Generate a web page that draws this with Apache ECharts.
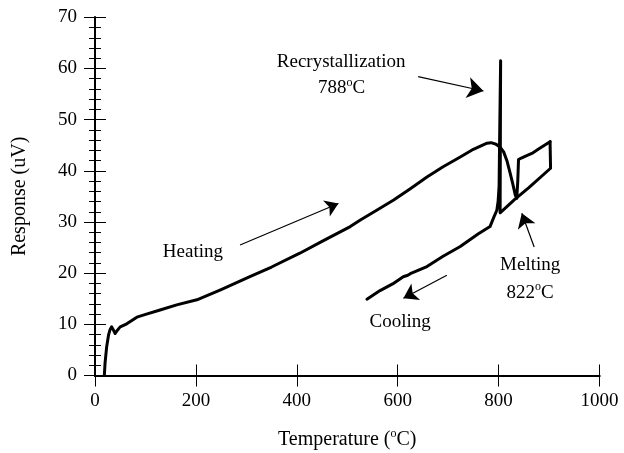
<!DOCTYPE html>
<html>
<head>
<meta charset="utf-8">
<script src="https://cdn.jsdelivr.net/npm/echarts@6/dist/echarts.min.js"></script>
<style>
  html, body { margin: 0; padding: 0; background: #fff; }
  #chart { width: 624px; height: 453px; }
</style>
</head>
<body>
<div id="chart"></div>
<script>
// Heating trace: temperature (°C) and response (uV)
const heatingTemp = [18.5, 20, 23, 27, 30, 33, 37, 40, 44, 50, 63, 83, 102, 129, 162, 202, 250, 307, 350, 406, 450, 506, 526, 560, 592, 625, 658, 690, 724, 750, 777, 785, 795, 803, 810, 817, 823, 828, 833, 836, 838, 839.5, 845, 859, 866, 880, 902];
const heatingResp = [0, 2.5, 5.5, 8, 9, 9.5, 8.8, 8.2, 8.8, 9.5, 10.1, 11.4, 12, 12.8, 13.8, 14.8, 16.8, 19.3, 21.2, 23.9, 26.2, 29.1, 30.4, 32.4, 34.3, 36.5, 38.8, 40.8, 42.7, 44.2, 45.4, 45.5, 45.2, 44.6, 43.7, 41.8, 39.5, 37.5, 35.3, 34.6, 38, 42.2, 42.5, 43.1, 43.4, 44.3, 45.7];

// Cooling trace, including the recrystallization spike
const coolingTemp = [902, 903, 860, 832, 803, 803.5, 804, 802, 801, 799, 796.5, 790, 783, 760, 724, 690, 658, 625, 620, 611, 590, 565, 539];
const coolingResp = [45.7, 40.5, 36.7, 34.4, 31.8, 46, 61.5, 46, 37, 34, 32.3, 30.8, 29.1, 27.7, 25.2, 23.3, 21.3, 19.9, 19.6, 19.3, 17.9, 16.6, 14.9];

// Axis ticks
const xTicks = [0, 200, 400, 600, 800, 1000];
const yTicks = [0, 10, 20, 30, 40, 50, 60, 70];

const pairs = (xs, ys) => xs.map((x, i) => [x, ys[i]]);

const serif = 'Liberation Serif';
// small raised "o" used as the degree mark
const supRich = {
  sup: { fontFamily: serif, fontSize: 12, lineHeight: 16, verticalAlign: 'top', color: '#000' }
};

const textPoint = (coord, text) => ({
  coord: coord,
  symbol: 'circle',
  symbolSize: 0,
  label: {
    show: true,
    position: 'inside',
    formatter: text,
    fontFamily: serif,
    fontSize: 19,
    lineHeight: 24,
    color: '#000',
    rich: supRich
  }
});

// Annotation arrow: plain tail, filled head at the target
const arrow = (from, to, head) => [
  { coord: from, symbol: 'none' },
  { coord: to, symbol: 'arrow', symbolSize: head }
];

const chart = echarts.init(document.getElementById('chart'), null, { renderer: 'canvas' });

const axisLine = { show: true, lineStyle: { color: '#000', width: 2 } };
const tickStyle = { color: '#000', width: 1 };
const plainNumber = v => String(v);

chart.setOption({
  animation: false,
  backgroundColor: '#fff',
  grid: { left: 95, right: 24.5, top: 17.3, bottom: 77.5, containLabel: false, outerBoundsMode: 'none' },
  xAxis: [
    {
      type: 'value', min: xTicks[0], max: xTicks[xTicks.length - 1], interval: 200,
      position: 'bottom',
      axisLine: axisLine,
      axisTick: { show: true, inside: true, length: 11, lineStyle: tickStyle },
      splitLine: { show: false },
      axisLabel: { fontFamily: serif, fontSize: 19, color: '#000', margin: 16, formatter: plainNumber },
      name: 'Temperature ({sup|o}C)',
      nameLocation: 'middle',
      nameGap: 52,
      nameTextStyle: { fontFamily: serif, fontSize: 20, lineHeight: 24, color: '#000', rich: supRich }
    },
    {
      type: 'value', min: xTicks[0], max: xTicks[xTicks.length - 1], interval: 200,
      position: 'top',
      axisLine: axisLine,
      axisTick: { show: true, inside: true, length: 11, lineStyle: tickStyle },
      splitLine: { show: false },
      axisLabel: { show: false }
    }
  ],
  yAxis: [
    {
      type: 'value', min: yTicks[0], max: yTicks[yTicks.length - 1], interval: 10,
      position: 'left',
      axisLine: axisLine,
      axisTick: { show: true, inside: true, length: 11, lineStyle: tickStyle },
      minorTick: { show: true, splitNumber: 5, length: 6, lineStyle: tickStyle },
      splitLine: { show: false },
      axisLabel: { fontFamily: serif, fontSize: 19, color: '#000', margin: 18, formatter: plainNumber },
      name: 'Response (uV)',
      nameLocation: 'middle',
      nameGap: 65,
      nameTextStyle: { fontFamily: serif, fontSize: 20, color: '#000' }
    },
    {
      type: 'value', min: yTicks[0], max: yTicks[yTicks.length - 1], interval: 10,
      position: 'right',
      axisLine: axisLine,
      axisTick: { show: true, inside: true, length: 11, lineStyle: tickStyle },
      minorTick: { show: true, splitNumber: 5, length: 6, lineStyle: tickStyle },
      splitLine: { show: false },
      axisLabel: { show: false }
    }
  ],
  series: [
    {
      name: 'Heating',
      type: 'line',
      data: pairs(heatingTemp, heatingResp),
      showSymbol: false,
      symbol: 'none',
      lineStyle: { color: '#000', width: 3, join: 'round', cap: 'round' },
      markLine: {
        silent: true,
        symbol: ['none', 'arrow'],
        symbolSize: 14,
        label: { show: false },
        itemStyle: { color: '#000' },
        lineStyle: { color: '#000', width: 1.2, type: 'solid' },
        data: [
          arrow([287.5, 25.5], [482.5, 33.6], 13),
          arrow([640.5, 58.4], [770, 55.6], 16),
          arrow([697.4, 19.6], [611.3, 15.1], 14),
          arrow([870.5, 25.1], [846, 31.7], 14)
        ]
      },
      markPoint: {
        silent: true,
        data: [
          textPoint([194, 24.2], 'Heating'),
          textPoint([488, 61.3], 'Recrystallization'),
          textPoint([489, 56.1], '788{sup|o}C'),
          textPoint([605, 10.4], 'Cooling'),
          textPoint([862.6, 21.6], 'Melting'),
          textPoint([862.6, 16.1], '822{sup|o}C')
        ]
      }
    },
    {
      name: 'Cooling',
      type: 'line',
      data: pairs(coolingTemp, coolingResp),
      showSymbol: false,
      symbol: 'none',
      lineStyle: { color: '#000', width: 3, join: 'round', cap: 'round' }
    }
  ]
});
</script>
</body>
</html>
